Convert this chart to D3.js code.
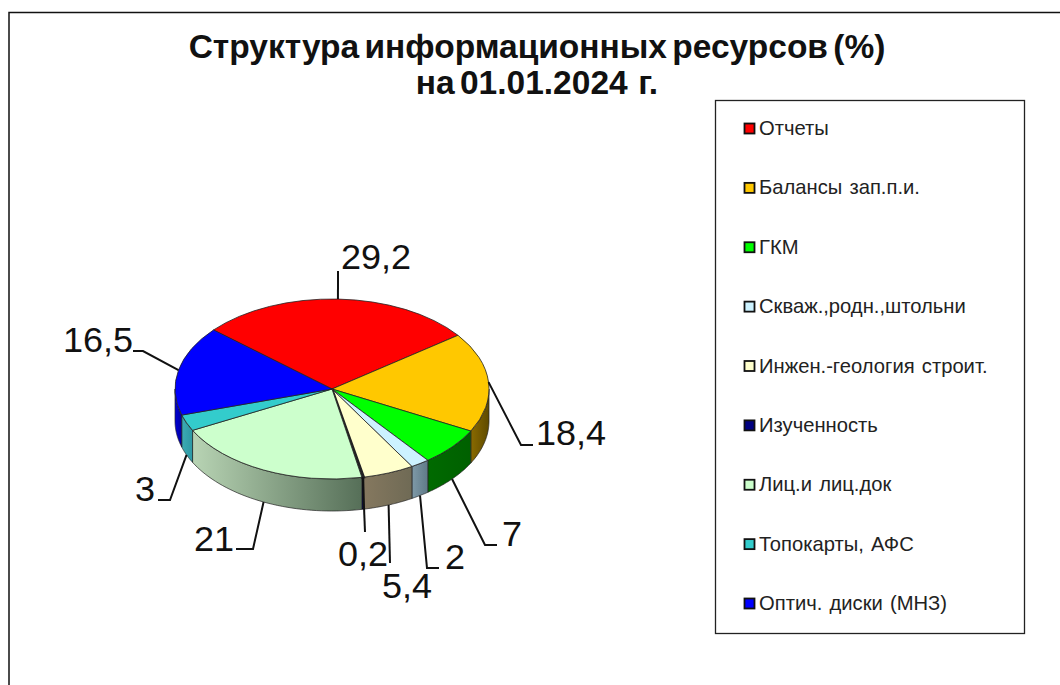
<!DOCTYPE html>
<html lang="ru">
<head>
  <meta charset="UTF-8">
  <title>Структура информационных ресурсов</title>
  <script src="https://d3js.org/d3.v7.min.js"></script>
  <style>
    html, body { margin: 0; padding: 0; background: #fff; }
    svg { display: block; }
    text { font-family: "Liberation Sans", Arial, sans-serif; fill: #111; white-space: pre; }
    .title { font-size: 33.5px; font-weight: bold; text-anchor: middle; word-spacing: -4px; }
    .legend-label { font-size: 20.2px; dominant-baseline: central; word-spacing: -2px; fill: #222; }
    .value-label { font-size: 35px; }
    .leader { fill: none; stroke: #111; stroke-width: 2; }
  </style>
</head>
<body>
<svg id="chart" width="1060" height="685"></svg>
<script>
  // Данные диаграммы
  const categories = ["Отчеты", "Балансы  зап.п.и.", "ГКМ", "Скваж.,родн.,штольни", "Инжен.-геология  строит.",
    "Изученность", "Лиц.и  лиц.док", "Топокарты,  АФС", "Оптич.  диски  (МНЗ)"];
  const values = [29.2, 18.4, 7, 2, 5.4, 0.2, 21, 3, 16.5];
  const titleLines = ["Структура информационных ресурсов (%)", "на 01.01.2024  г."];

  // Цвета
  const topColors = ["#ff0000", "#ffc800", "#00ff00", "#ccf2ff", "#ffffcc", "#000080", "#ccffcc", "#33cccc", "#0000ff"];
  const wallLight = ["#990000", "#8a6a00", "#006a00", "#7f9aa8", "#85785f", "#000050", "#b8d4b4", "#3cabb4", "#0000d8"];
  const wallDark = ["#660000", "#5e4a00", "#006000", "#5f7a88", "#6f6a55", "#000040", "#566f58", "#2c98a4", "#0000a0"];

  // Разметка подписей: конец выноски и точка текста
  const leaderPaths = [
    [[338, 271]],
    [[521, 445], [533, 445]],
    [[485, 545], [497, 545]],
    [[427, 568], [439, 568]],
    [[390, 563]],
    [[365, 532]],
    [[253, 549], [236, 549]],
    [[170, 500], [158, 500]],
    [[143, 351], [133, 351]]
  ];
  const labelPos = [[341, 269], [536, 445], [502, 546], [445, 569], [382, 598], [338, 566], [194, 551], [135, 501], [63, 352]];

  const cx = 332, cy = 389, rx = 157, ry = 90, depth = 32;
  const startAngle = -49 * Math.PI / 180;

  const svg = d3.select("#chart");
  const fmt = d3.formatLocale({ decimal: ",", thousands: " ", grouping: [3], currency: ["", ""] }).format("~g");

  // Рамка слайда (справа линии нет)
  svg.append("path")
    .attr("d", "M9,685V12.5H1060")
    .attr("fill", "none")
    .attr("stroke", "#111")
    .attr("stroke-width", 1.5);

  // Заголовок
  svg.selectAll("text.title")
    .data(titleLines)
    .enter()
    .append("text")
    .attr("class", "title")
    .attr("x", 537)
    .attr("y", (d, i) => 58 + i * 36)
    .text(d => d);

  // Секторы
  const pie = d3.pie().sort(null).startAngle(startAngle).endAngle(startAngle + 2 * Math.PI);
  const arcs = pie(values);
  const point = (a, dy) => [cx + rx * Math.sin(a), cy - ry * Math.cos(a) + (dy || 0)];

  // Градиенты для боковых стенок
  const defs = svg.append("defs");
  arcs.forEach((d, i) => {
    const g = defs.append("linearGradient").attr("id", "wall" + i);
    g.append("stop").attr("offset", "0%").attr("stop-color", wallLight[i]);
    g.append("stop").attr("offset", "100%").attr("stop-color", wallDark[i]);
  });

  // Боковая стенка: только передняя половина эллипса
  const line = d3.line();
  const walls = svg.append("g");
  arcs.forEach((d, i) => {
    let a0 = d.startAngle, a1 = d.endAngle;
    const shift = a0 < 0 ? 2 * Math.PI : 0;
    a0 += shift; a1 += shift;
    const from = Math.max(a0, Math.PI / 2), to = Math.min(a1, 3 * Math.PI / 2);
    if (to <= from) return;
    const steps = d3.range(0, 41).map(k => from + (to - from) * k / 40);
    const pts = steps.map(a => point(a)).concat(steps.slice().reverse().map(a => point(a, depth)));
    walls.append("path")
      .attr("d", line(pts) + "Z")
      .attr("fill", `url(#wall${i})`)
      .attr("stroke", "#222")
      .attr("stroke-width", 0.7);
  });

  // Верхняя грань
  const arc = d3.arc().innerRadius(0).outerRadius(rx);
  svg.append("g")
    .attr("transform", `translate(${cx},${cy}) scale(1,${ry / rx})`)
    .selectAll("path")
    .data(arcs)
    .enter()
    .append("path")
    .attr("d", arc)
    .attr("fill", (d, i) => topColors[i])
    .attr("stroke", "#222")
    .attr("stroke-width", (d, i) => i === 5 ? 2.5 : 0.8)
    .attr("vector-effect", "non-scaling-stroke");

  // Выноски: от края сектора к подписи
  arcs.forEach((d, i) => {
    const mid = (d.startAngle + d.endAngle) / 2;
    // у 0,2 линия идет поверх стенки от верхней грани
    const onWall = Math.cos(mid) < 0 && i !== 5;
    const start = point(mid, onWall ? depth : 0);
    svg.append("path")
      .attr("class", "leader")
      .attr("d", line([start].concat(leaderPaths[i])));
  });

  // Подписи значений (в оригинале чуть растянуты по ширине)
  svg.selectAll("text.value-label")
    .data(values)
    .enter()
    .append("text")
    .attr("class", "value-label")
    .attr("transform", (d, i) => `translate(${labelPos[i][0]},${labelPos[i][1]}) scale(1.03,1)`)
    .text(d => fmt(d));

  // Легенда
  const legendY = d3.scalePoint().domain(categories).range([128, 603]);
  svg.append("rect")
    .attr("x", 715.5).attr("y", 100.5)
    .attr("width", 309).attr("height", 533)
    .attr("fill", "#fff")
    .attr("stroke", "#222")
    .attr("stroke-width", 1.3);
  const rows = svg.selectAll("g.row")
    .data(categories)
    .enter()
    .append("g")
    .attr("class", "row")
    .attr("transform", d => `translate(744,${legendY(d)})`);
  rows.append("rect")
    .attr("x", 0.5).attr("y", -4.5)
    .attr("width", 10).attr("height", 10)
    .attr("fill", (d, i) => topColors[i])
    .attr("stroke", "#111")
    .attr("stroke-width", 1.8);
  rows.append("text")
    .attr("class", "legend-label")
    .attr("x", 15)
    .attr("y", 0)
    .text(d => d);
</script>
</body>
</html>
